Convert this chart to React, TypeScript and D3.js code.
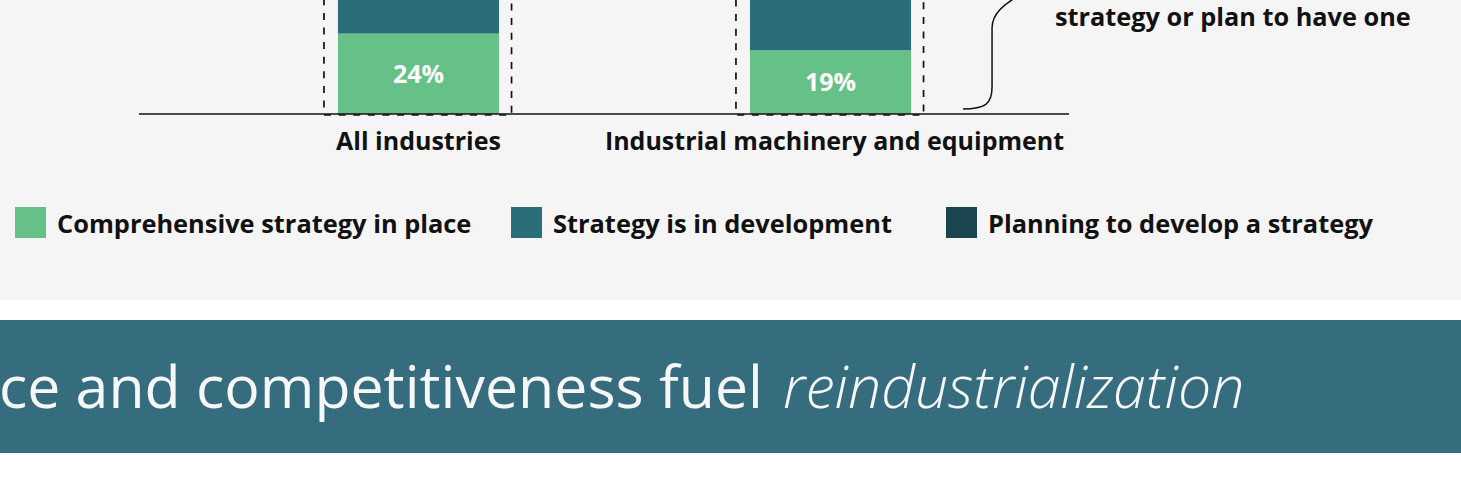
import React from "react";
import * as d3 from "d3";

// ---- data ----
const categories = ["All industries", "Industrial machinery and equipment"];
const seriesNames = [
  "Comprehensive strategy in place",
  "Strategy is in development",
  "Planning to develop a strategy",
];
const comprehensive = [24, 19];
const inDevelopment = [38, 36]; // above visible crop (estimated)
const planning = [16, 19]; // above visible crop (estimated)
const seriesColors = ["#66c188", "#296e78", "#1b4650"];
const annotationLines = ["strategy or plan to have one"];
const bannerMain = "ce and competitiveness fuel";
const bannerItalic = "reindustrialization";

const W = 1461;
const H = 487;
const FONT = "'Open Sans', 'Noto Sans', sans-serif";

export default function App() {
  const baseY = 114;
  const x = d3
    .scaleBand<string>()
    .domain(categories)
    .range([212.5, 1036.5])
    .paddingInner(0.609)
    .paddingOuter(0.3045);
  const y = d3.scaleLinear().domain([0, 100]).range([baseY, baseY - 335]);

  const rows = categories.map((c, i) => ({
    cat: c,
    comprehensive: comprehensive[i],
    inDevelopment: inDevelopment[i],
    planning: planning[i],
  }));
  const keys = ["comprehensive", "inDevelopment", "planning"];
  const stack = d3.stack<any>().keys(keys)(rows);

  const bw = x.bandwidth();
  // brace geometry derived from second bar
  const last = categories[categories.length - 1];
  const lastIdx = categories.length - 1;
  const total2 = comprehensive[lastIdx] + inDevelopment[lastIdx] + planning[lastIdx];
  const xb0 = (x(last) as number) + bw + 52;
  const xb1 = xb0 + 29;
  const xt = xb1 + 38;
  const yb = y(0) - 5;
  const yTop = y(total2) + 5;
  const mid = (yb + yTop) / 2;
  const bracePath = [
    `M${xb0},${yb}`,
    `C${xb0 + 22},${yb} ${xb1},${yb - 5} ${xb1},${yb - 22}`,
    `L${xb1},${mid + 38}`,
    `C${xb1},${mid + 26} ${xb1 + 8},${mid + 14} ${xt},${mid}`,
    `C${xb1 + 8},${mid - 14} ${xb1},${mid - 26} ${xb1},${mid - 38}`,
    `L${xb1},${yTop + 22}`,
    `C${xb1},${yTop + 5} ${xb0 + 22},${yTop} ${xb0},${yTop}`,
  ].join(" ");

  const legendX = [15, 511, 946];

  return (
    <svg
      width={W}
      height={H}
      style={{ position: "absolute", left: 0, top: 0, display: "block" }}
      fontFamily={FONT}
    >
      <rect x={0} y={0} width={W} height={H} fill="#ffffff" />
      <rect x={0} y={0} width={W} height={300} fill="#f5f5f5" />

      {/* bars */}
      {stack.map((s, si) => (
        <g key={si} fill={seriesColors[si]}>
          {s.map((d: any, i: number) => (
            <rect
              key={i}
              x={x(d.data.cat)}
              y={y(d[1])}
              width={bw}
              height={y(d[0]) - y(d[1])}
            />
          ))}
        </g>
      ))}

      {/* value labels for first series */}
      {stack[0].map((d: any, i: number) => (
        <text
          key={i}
          x={(x(d.data.cat) as number) + bw / 2}
          y={(y(d[0]) + y(d[1])) / 2}
          dy="0.36em"
          textAnchor="middle"
          fill="#ffffff"
          fontWeight={700}
          fontSize={25}
        >
          {`${d[1] - d[0]}%`}
        </text>
      ))}

      {/* dashed boxes */}
      {rows.map((r, i) => {
        const x0 = (x(r.cat) as number) - 14;
        const x1 = (x(r.cat) as number) + bw + 12.5;
        const tot = r.comprehensive + r.inDevelopment + r.planning;
        return (
          <rect
            key={i}
            x={x0}
            y={y(tot) - 12}
            width={x1 - x0}
            height={y(0) + 1 - (y(tot) - 12)}
            fill="none"
            stroke="#111"
            strokeWidth={1.7}
            strokeDasharray="7,7.6"
          />
        );
      })}

      {/* axis line */}
      <line x1={139} x2={1069} y1={baseY} y2={baseY} stroke="#111" strokeWidth={1.6} />

      {/* category labels */}
      {categories.map((c) => (
        <text
          key={c}
          x={(x(c) as number) + bw / 2 + (c === last ? 4 : 0)}
          y={150}
          textAnchor="middle"
          fontWeight={700}
          fontSize={25}
          fill="#111"
        >
          {c}
        </text>
      ))}

      {/* brace + annotation */}
      <path d={bracePath} fill="none" stroke="#111" strokeWidth={1.5} />
      {annotationLines.map((t, i) => (
        <text
          key={i}
          x={xt + 25}
          y={mid + 36 + i * 30}
          fontWeight={700}
          fontSize={25.3}
          fill="#111"
        >
          {t}
        </text>
      ))}

      {/* legend */}
      {seriesNames.map((n, i) => (
        <g key={n} transform={`translate(${legendX[i]},207)`}>
          <rect x={0} y={0} width={31} height={31} fill={seriesColors[i]} />
          <text x={42} y={25.5} fontWeight={700} fontSize={25.4} fill="#111">
            {n}
          </text>
        </g>
      ))}

      {/* banner */}
      <rect x={0} y={320} width={W} height={133} fill="#366d7e" />
      <text
        x={763}
        y={408}
        textAnchor="end"
        fill="#f7f7f7"
        fontSize={59}
        fontWeight={400}
      >
        {bannerMain}
      </text>
      <text
        x={783}
        y={408}
        fill="#f7f7f7"
        fontSize={59}
        fontWeight={300}
        fontStyle="italic"
      >
        {bannerItalic}
      </text>
    </svg>
  );
}
